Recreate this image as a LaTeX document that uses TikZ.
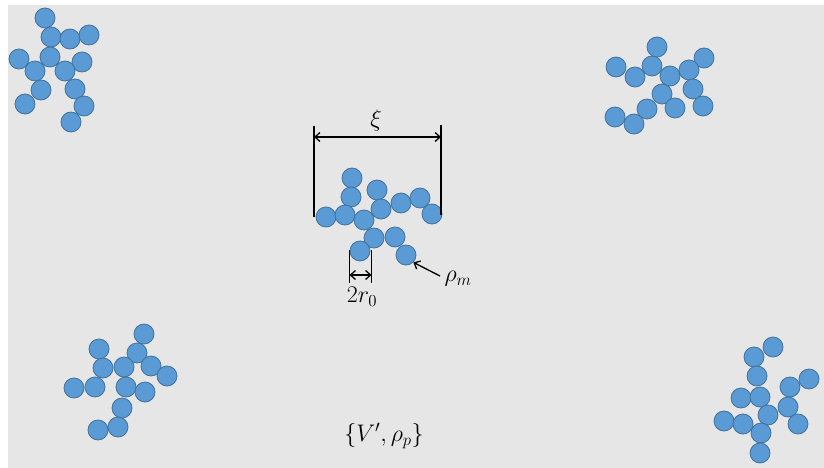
\documentclass[tikz,border=0pt]{standalone}
\usepackage{fix-cm}
\usetikzlibrary{arrows.meta}
\definecolor{bg}{HTML}{E6E6E6}
\definecolor{ballfill}{HTML}{5B9BD5}
\definecolor{balledge}{HTML}{41719C}
\begin{document}
\begin{tikzpicture}[x=1pt,y=-1pt,
  ball/.style={circle,fill=ballfill,draw=balledge,line width=0.8pt,minimum size=20pt,inner sep=0pt},
  dimline/.style={line width=1.3pt,black},
  dimarrow/.style={line width=1.3pt,black,{Straight Barb[length=5pt,width=9pt]}-{Straight Barb[length=5pt,width=9pt]}},
  lbl/.style={font=\fontsize{24}{28}\selectfont,inner sep=0pt}]
\useasboundingbox (0,0) rectangle (824,468);
\fill[bg] (8,5) rectangle (824,468);
% top-left cluster
\foreach \x/\y [count=\i] in {45/18,51/37,70/39,89/35,19/59,50/57,82/62,35/71,65/71,41/90,75/89,25/104,84/106,71/122}
  \node[ball] (tl\i) at (\x,\y) {};
% top-right cluster
\foreach \x/\y [count=\i] in {657/47,616/67,652/66,704/58,635/77,670/76,689/70,693/89,662/94,703/106,675/108,647/109,615/117,634/124}
  \node[ball] (tr\i) at (\x,\y) {};
% bottom-left cluster
\foreach \x/\y [count=\i] in {144/334,99/349,137/353,103/368,124/367,151/366,167/376,74/388,95/387,126/387,145/392,122/408,118/427,98/430}
  \node[ball] (bl\i) at (\x,\y) {};
% bottom-right cluster
\foreach \x/\y [count=\i] in {773/347,754/357,757/376,809/379,790/387,741/398,760/397,768/415,788/407,724/421,743/424,798/424,761/433,760/453}
  \node[ball] (br\i) at (\x,\y) {};
% central cluster
\foreach \x/\y [count=\i] in {352/178,351/197,377/190,326/217,345/215,364/220,381/209,401/203,420/198,432/214,374/238,395/237,360/251,406/255}
  \node[ball] (c\i) at (\x,\y) {};
% xi dimension
\coordinate (xiLb) at (314,217);
\coordinate (xiLt) at (314,126);
\coordinate (xiRb) at (441,215);
\coordinate (xiRt) at (441,125);
\draw[dimline] (xiLb) -- (xiLt);
\draw[dimline] (xiRb) -- (xiRt);
\coordinate (xiA) at (314,137);
\coordinate (xiB) at (441,137);
\draw[dimarrow] (xiA) -- (xiB);
\node[lbl] (xi) at (376,121) {$\xi$};
% 2r0 dimension
\coordinate (rLt) at (349.5,250);
\coordinate (rLb) at (349.5,283);
\coordinate (rRt) at (371.5,250);
\coordinate (rRb) at (371.5,283);
\draw[dimline] (rLt) -- (rLb);
\draw[dimline] (rRt) -- (rRb);
\coordinate (rA) at (349.5,275);
\coordinate (rB) at (371.5,275);
\draw[dimarrow] (rA) -- (rB);
\node[lbl] (r0) at (362,297) {$2r_0$};
% rho_m
\node[lbl] (rhom) at (458,279) {$\rho_m$};
\coordinate (rhoTail) at (440,276);
\draw[line width=1.3pt,-{Straight Barb[length=5pt,width=9pt]}] (rhoTail) -- (c14.south east);
% label
\node[lbl] (vp) at (384,436) {$\bigl\{V',\rho_p\bigr\}$};
\end{tikzpicture}
\end{document}
